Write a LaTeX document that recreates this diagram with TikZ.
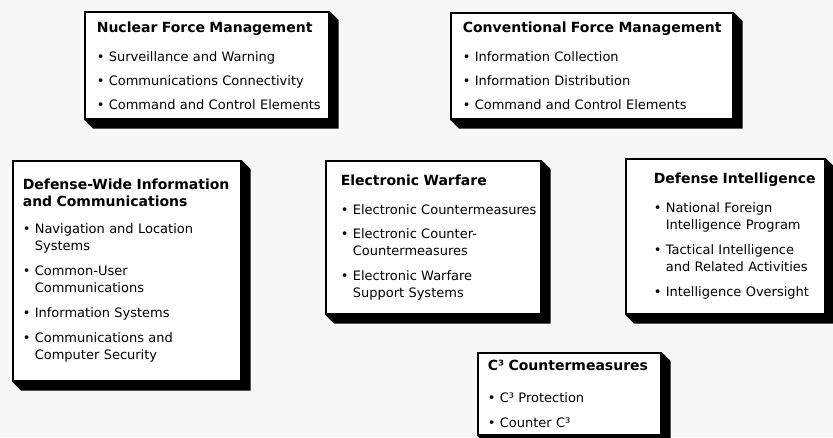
\documentclass[tikz,border=0pt]{standalone}
\usepackage{fontspec}
\setmainfont{DejaVu Sans}
\usepackage{tikz}
\usetikzlibrary{calc,backgrounds}

\newcommand{\ttl}[1]{\mbox{\fontsize{14}{17}\selectfont\bfseries #1}}
\newcommand{\itm}[1]{\mbox{\textbullet\ #1}}
\newcommand{\cnt}[1]{\mbox{\phantom{\textbullet\ }#1}}

\begin{document}
\begin{tikzpicture}[
  x=1pt, y=-1pt,
  box/.style={draw, line width=1.6pt, fill=white, anchor=north west,
              align=left, font=\fontsize{13}{17}\selectfont},
]
  \useasboundingbox (0,0) rectangle (833,437);

  \node[box, text width=220pt, inner xsep=12pt, minimum height=107pt] (nfm) at (84,11)
    {\ttl{Nuclear Force Management}\\[12pt]
     \itm{Surveillance and Warning}\\[7pt]
     \itm{Communications Connectivity}\\[7pt]
     \itm{Command and Control Elements}};
  \node[box, text width=258pt, inner xsep=12pt, minimum height=106pt] (cfm) at (450,12)
    {\ttl{Conventional Force Management}\\[12pt]
     \itm{Information Collection}\\[7pt]
     \itm{Information Distribution}\\[7pt]
     \itm{Command and Control Elements}};
  \node[box, text width=208pt, inner xsep=10pt, minimum height=220pt] (dwic) at (12,160)
    {\ttl{Defense-Wide Information}\\
     \ttl{and Communications}\\[10pt]
     \itm{Navigation and Location}\\
     \cnt{Systems}\\[8pt]
     \itm{Common-User}\\
     \cnt{Communications}\\[8pt]
     \itm{Information Systems}\\[8pt]
     \itm{Communications and}\\
     \cnt{Computer Security}};
  \node[box, text width=185pt, inner xsep=15pt, minimum height=153pt] (ew) at (325,160)
    {\ttl{Electronic Warfare}\\[12pt]
     \itm{Electronic Countermeasures}\\[7pt]
     \itm{Electronic Counter-}\\
     \cnt{Countermeasures}\\[8pt]
     \itm{Electronic Warfare}\\
     \cnt{Support Systems}};
  \node[box, text width=143pt, inner xsep=28pt, minimum height=155pt] (di) at (625,158)
    {\ttl{Defense Intelligence}\\[12pt]
     \itm{National Foreign}\\
     \cnt{Intelligence Program}\\[8pt]
     \itm{Tactical Intelligence}\\
     \cnt{and Related Activities}\\[8pt]
     \itm{Intelligence Oversight}};
  \node[box, text width=163pt, inner xsep=10pt, minimum height=82pt] (c3) at (477,352)
    {\ttl{C³ Countermeasures}\\[15pt]
     \itm{C³ Protection}\\[8pt]
     \itm{Counter C³}};

  % stippled ground and the box shadows
  \begin{scope}[on background layer]
    \fill[black!3] (0,0) rectangle (833,437);
    \foreach \b in {nfm,cfm,dwic,ew,di,c3}
      \fill[black] (\b.north east) -- ++(9,9) -- ($(\b.south east)+(9,9)$)
        -- ($(\b.south west)+(9,9)$) -- (\b.south west) -- cycle;
  \end{scope}
\end{tikzpicture}
\end{document}
